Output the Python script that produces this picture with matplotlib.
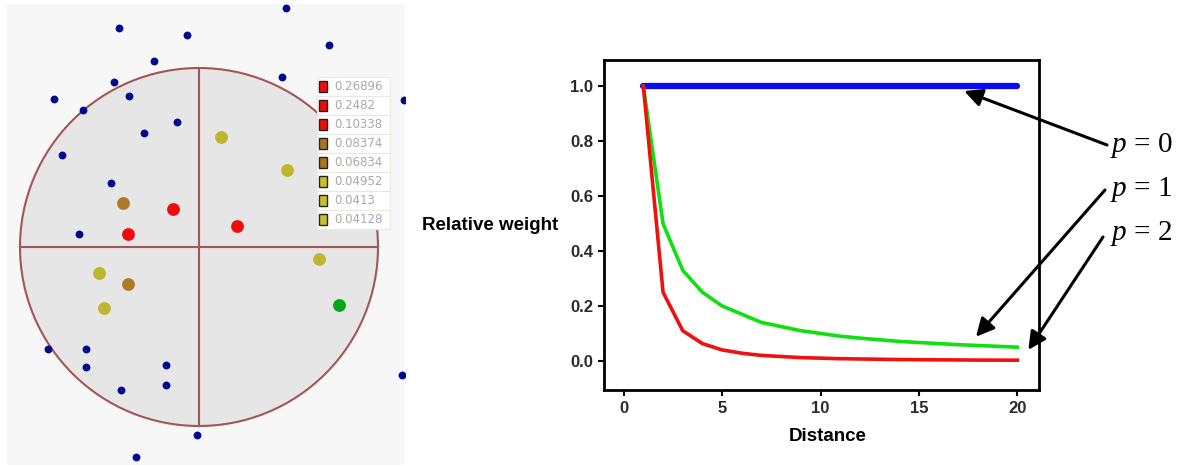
import numpy as np
import matplotlib.pyplot as plt
from matplotlib.patches import Circle, Rectangle

# --- left panel: sample points around a search circle (offsets from centre, px) ---
far_x = [87, -80, -12, 130, -45, 83, -85, -70, -145, -116, 205, -22, -55,
         -137, -88, -120, -151, -113, -113, -33, -33, -78, 203, -2, -63]
far_y = [239, 219, 212, 202, 186, 170, 165, 151, 148, 137, 147, 125, 114,
         92, 64, 13, -102, -102, -120, -118, -138, -143, -128, -188, -210]

red_x = [-26, -71, 38]
red_y = [38, 13, 21]
brown_x = [-76, -71]
brown_y = [44, -37]
olive_x = [22, 88, 120, -100, -95]
olive_y = [110, 77, -12, -26, -61]
green_x = [140]
green_y = [-58]

weights = ["0.26896", "0.2482", "0.10338", "0.08374", "0.06834",
           "0.04952", "0.0413", "0.04128"]
weight_colors = ["#f00c0c", "#f00c0c", "#f00c0c", "#a8741e", "#a8741e",
                 "#c8c02a", "#c8c02a", "#c8c02a"]

# --- right panel: relative weight vs distance ---
distance = list(range(1, 21))
w_p0 = [1.0] * 20
w_p1 = [1.0, 0.5, 0.33, 0.25, 0.2, 0.17, 0.14, 0.125, 0.11, 0.10,
        0.09, 0.083, 0.077, 0.071, 0.067, 0.063, 0.059, 0.056, 0.053, 0.05]
w_p2 = [1.0, 0.25, 0.11, 0.063, 0.04, 0.028, 0.02, 0.016, 0.012, 0.01,
        0.008, 0.007, 0.006, 0.005, 0.0044, 0.004, 0.0035, 0.003, 0.0028, 0.0025]

plt.rcParams['mathtext.fontset'] = 'custom'
plt.rcParams['mathtext.it'] = 'Liberation Serif:italic'
plt.rcParams['mathtext.rm'] = 'Liberation Serif'

W, H = 1181, 466
fig = plt.figure(figsize=(W / 100, H / 100), dpi=100)

# left panel
axl = fig.add_axes([7 / W, 1 / H, 398 / W, 461 / H])
axl.set_facecolor("#f7f7f7")
axl.set_xlim(-192, 206)
axl.set_ylim(-218, 243)
for s in axl.spines.values():
    s.set_visible(False)
axl.set_xticks([])
axl.set_yticks([])

ring = "#a45555"
axl.add_patch(Circle((0, 0), 179, facecolor="#e6e6e6", edgecolor=ring, lw=1.5, zorder=1))
axl.plot([-179, 179], [0, 0], color=ring, lw=1.5, zorder=2)
axl.plot([0, 0], [-179, 179], color=ring, lw=1.5, zorder=2)

axl.scatter(far_x, far_y, s=32, color="#000a8c", zorder=3, linewidths=0)
axl.scatter(red_x, red_y, s=85, color="#f00c0c", zorder=3, linewidths=0)
axl.scatter(brown_x, brown_y, s=85, color="#ad7a28", zorder=3, linewidths=0)
axl.scatter(olive_x, olive_y, s=85, color="#bdb62e", zorder=3, linewidths=0)
axl.scatter(green_x, green_y, s=85, color="#00a81a", zorder=3, linewidths=0)

# weight table
top, row_h = 170, 19
for i, (lab, col) in enumerate(zip(weights, weight_colors)):
    y0 = top - (i + 1) * row_h
    axl.add_patch(Rectangle((118, y0), 73, row_h, facecolor="white",
                            edgecolor="#ece8dc", lw=0.8, zorder=4))
    axl.add_patch(Rectangle((120, y0 + 4), 8, 11, facecolor=col,
                            edgecolor="#222222", lw=1.0, zorder=5))
    axl.text(135, y0 + row_h / 2, lab, fontsize=8.5, color="#a8a8a8",
             va="center", ha="left", zorder=5)

# right panel
ax = fig.add_axes([604 / W, 76 / H, 435 / W, 330 / H])
ax.plot(distance, w_p0, color="#0a0af5", lw=4.5, solid_capstyle="round")
ax.plot(distance, w_p1, color="#10e010", lw=2.6)
ax.plot(distance, w_p2, color="#f01010", lw=2.6)
ax.set_xlim(-1.0, 21.1)
ax.set_ylim(-0.106, 1.096)
ax.set_xticks([0, 5, 10, 15, 20])
ax.set_yticks([0.0, 0.2, 0.4, 0.6, 0.8, 1.0])
ax.set_yticklabels(["0.0", "0.2", "0.4", "0.6", "0.8", "1.0"])
for s in ax.spines.values():
    s.set_linewidth(2.0)
ax.tick_params(direction="out", length=4, width=1.5, labelsize=12,
               labelcolor="#2a2a2a", pad=4)
for t in ax.get_xticklabels() + ax.get_yticklabels():
    t.set_fontweight("bold")
    t.set_family("Liberation Sans")

ax.set_ylabel("Relative weight", rotation=0, ha="right", va="center",
              fontsize=13.5, fontweight="bold", family="Liberation Sans")
ax.yaxis.set_label_coords(-0.106, 0.497)
ax.set_xlabel("Distance", fontsize=13.5, fontweight="bold", family="Liberation Sans",
              va="center")
ax.xaxis.set_label_coords(0.515, -0.142)

# arrows to the curves
arrow = dict(arrowstyle="-|>", lw=2.2, color="black", mutation_scale=27,
             shrinkA=0, shrinkB=0)
ax.annotate("", xy=(17.3, 0.983), xytext=(1107, H - 145),
            textcoords="figure pixels", arrowprops=arrow, annotation_clip=False)
ax.annotate("", xy=(17.9, 0.088), xytext=(1105, H - 190),
            textcoords="figure pixels", arrowprops=arrow, annotation_clip=False)
ax.annotate("", xy=(20.56, 0.04), xytext=(1103, H - 237),
            textcoords="figure pixels", arrowprops=arrow, annotation_clip=False)

for lab, ypix in [("$p$ = 0", 146), ("$p$ = 1", 189), ("$p$ = 2", 233)]:
    fig.text(1110 / W, 1 - ypix / H, lab, fontsize=21, family="Liberation Serif",
             ha="left", va="center")

fig.savefig("out.png", dpi=100)
